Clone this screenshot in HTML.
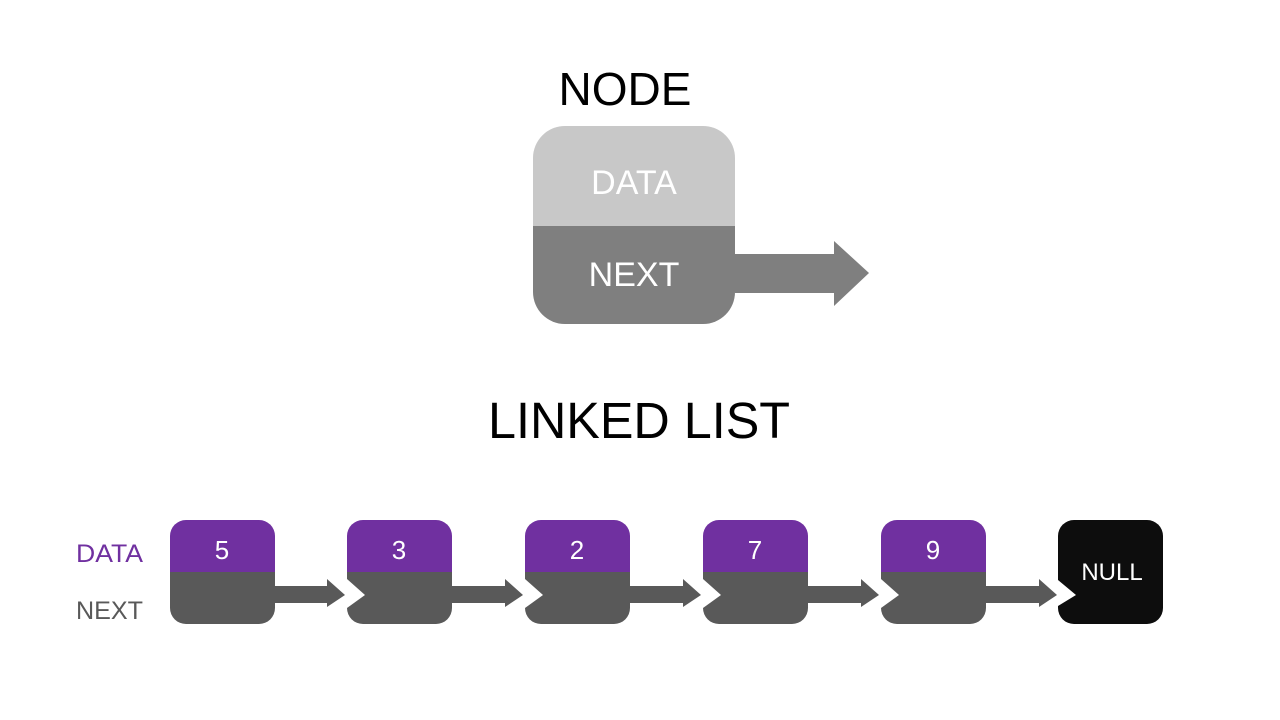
<!DOCTYPE html>
<html><head><style>body{margin:0;background:#fff}svg{display:block}text{font-family:"Liberation Sans",sans-serif}</style></head><body>
<svg width="1280" height="720" viewBox="0 0 1280 720" xmlns="http://www.w3.org/2000/svg">
<text x="625" y="105" font-size="46" text-anchor="middle" fill="#000">NODE</text>
<defs><clipPath id="c1"><rect x="533" y="126" width="202" height="198" rx="32"/></clipPath></defs>
<g clip-path="url(#c1)"><rect x="533" y="126" width="202" height="100" fill="#c8c8c8"/><rect x="533" y="226" width="202" height="98" fill="#7f7f7f"/></g>
<polygon points="735,254 834,254 834,241 869,273 834,306 834,293 735,293" fill="#7f7f7f"/>
<text x="634" y="194" font-size="34" text-anchor="middle" fill="#fff">DATA</text>
<text x="634" y="286" font-size="34" text-anchor="middle" fill="#fff">NEXT</text>
<text x="639" y="438" font-size="51" text-anchor="middle" fill="#000" textLength="302" lengthAdjust="spacingAndGlyphs">LINKED LIST</text>
<text x="76" y="562" font-size="25" fill="#7030a0" textLength="67" lengthAdjust="spacingAndGlyphs">DATA</text>
<text x="76" y="619" font-size="25" fill="#595959" textLength="67" lengthAdjust="spacingAndGlyphs">NEXT</text>
<defs>
<clipPath id="n"><rect x="0" y="0" width="105" height="104" rx="16"/></clipPath>
</defs>
<g transform="translate(170,520)"><g clip-path="url(#n)"><rect width="105" height="52" fill="#7030a0"/><rect y="52" width="105" height="52" fill="#595959"/></g><text x="52" y="39" font-size="26" fill="#fff" text-anchor="middle">5</text></g>
<g transform="translate(347,520)"><g clip-path="url(#n)"><rect width="105" height="52" fill="#7030a0"/><rect y="52" width="105" height="52" fill="#595959"/><polygon points="0,59 18,75 0,88" fill="#fff"/></g><text x="52" y="39" font-size="26" fill="#fff" text-anchor="middle">3</text></g>
<g transform="translate(525,520)"><g clip-path="url(#n)"><rect width="105" height="52" fill="#7030a0"/><rect y="52" width="105" height="52" fill="#595959"/><polygon points="0,59 18,75 0,88" fill="#fff"/></g><text x="52" y="39" font-size="26" fill="#fff" text-anchor="middle">2</text></g>
<g transform="translate(703,520)"><g clip-path="url(#n)"><rect width="105" height="52" fill="#7030a0"/><rect y="52" width="105" height="52" fill="#595959"/><polygon points="0,59 18,75 0,88" fill="#fff"/></g><text x="52" y="39" font-size="26" fill="#fff" text-anchor="middle">7</text></g>
<g transform="translate(881,520)"><g clip-path="url(#n)"><rect width="105" height="52" fill="#7030a0"/><rect y="52" width="105" height="52" fill="#595959"/><polygon points="0,59 18,75 0,88" fill="#fff"/></g><text x="52" y="39" font-size="26" fill="#fff" text-anchor="middle">9</text></g>
<g transform="translate(1058,520)"><g clip-path="url(#n)"><rect width="106" height="104" fill="#0d0d0d"/><polygon points="0,60 18,75 0,86" fill="#fff"/></g><text x="54" y="60" font-size="24" fill="#fff" text-anchor="middle">NULL</text></g>
<g fill="#595959">
<polygon points="275,586 327,586 327,579 345,595 327,607 327,603 275,603"/>
<polygon points="452,586 505,586 505,579 523,595 505,607 505,603 452,603"/>
<polygon points="630,586 683,586 683,579 701,595 683,607 683,603 630,603"/>
<polygon points="808,586 861,586 861,579 879,595 861,607 861,603 808,603"/>
<polygon points="986,586 1039,586 1039,579 1057,595 1039,607 1039,603 986,603"/>
</g>
</svg>
</body></html>
